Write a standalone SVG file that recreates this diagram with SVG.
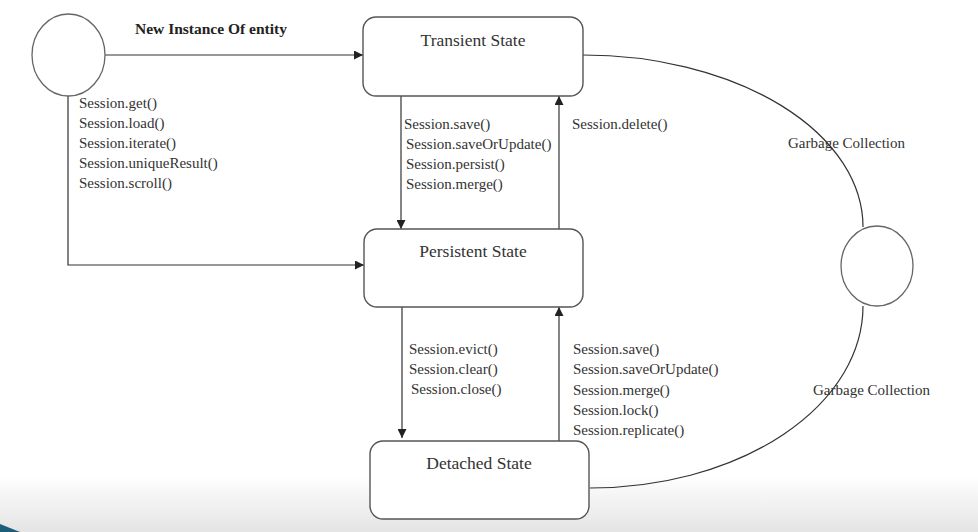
<svg xmlns="http://www.w3.org/2000/svg" width="978" height="532" viewBox="0 0 978 532">
<defs>
<linearGradient id="bg" x1="0" y1="0" x2="0" y2="1">
<stop offset="0" stop-color="#ffffff"/>
<stop offset="1" stop-color="#e4e4e4"/>
</linearGradient>
<marker id="arr" viewBox="0 0 10 10" refX="10" refY="5" markerWidth="9" markerHeight="9" markerUnits="userSpaceOnUse" orient="auto">
<path d="M0,0 L10,5 L0,10 z" fill="#222"/>
</marker>
<style>
.box{fill:#fff;stroke:#555;stroke-width:1.4}
.circ{fill:#fff;stroke:#666;stroke-width:1.3}
.ln{fill:none;stroke:#333;stroke-width:1.2}
.t{font-family:"Liberation Serif","DejaVu Serif",serif;font-size:15px;fill:#333}
.h{font-family:"Liberation Serif","DejaVu Serif",serif;font-size:17.5px;fill:#333;text-anchor:middle}
.b{font-family:"Liberation Serif","DejaVu Serif",serif;font-size:15.5px;font-weight:bold;fill:#222}
</style>
</defs>
<rect width="978" height="532" fill="#fff"/>
<rect x="0" y="475" width="978" height="57" fill="url(#bg)"/>
<path d="M0,524 Q10,528 20,532 L0,532 z" fill="#1d5d78"/>

<g id="connectors">
<path class="ln" d="M105,55 L363,55" marker-end="url(#arr)"/>
<path class="ln" d="M68,96 L68,265 L364,265" marker-end="url(#arr)"/>
<path class="ln" d="M401,96 L401,229" marker-end="url(#arr)"/>
<path class="ln" d="M559,229 L559,96" marker-end="url(#arr)"/>
<path class="ln" d="M402,307 L402,438" marker-end="url(#arr)"/>
<path class="ln" d="M559,441 L559,307" marker-end="url(#arr)"/>
<path class="ln" d="M583,55 A280,172 0 0 1 863,227"/>
<path class="ln" d="M863,306 A273,182 0 0 1 590,488"/>
<text class="b" x="135" y="34">New Instance Of entity</text>
<text class="t" x="79" y="108">Session.get()</text>
<text class="t" x="79" y="128">Session.load()</text>
<text class="t" x="79" y="148">Session.iterate()</text>
<text class="t" x="79" y="168">Session.uniqueResult()</text>
<text class="t" x="79" y="188">Session.scroll()</text>
<text class="t" x="404" y="129">Session.save()</text>
<text class="t" x="406" y="149">Session.saveOrUpdate()</text>
<text class="t" x="406" y="169">Session.persist()</text>
<text class="t" x="406" y="189">Session.merge()</text>
<text class="t" x="572" y="129">Session.delete()</text>
<text class="t" x="788" y="148">Garbage Collection</text>
<text class="t" x="813" y="395">Garbage Collection</text>
<text class="t" x="409" y="354">Session.evict()</text>
<text class="t" x="409" y="374">Session.clear()</text>
<text class="t" x="411" y="394">Session.close()</text>
<text class="t" x="573" y="354">Session.save()</text>
<text class="t" x="573" y="374">Session.saveOrUpdate()</text>
<text class="t" x="573" y="395">Session.merge()</text>
<text class="t" x="573" y="415">Session.lock()</text>
<text class="t" x="573" y="435">Session.replicate()</text>
</g>

<g id="start">
<ellipse class="circ" cx="68.5" cy="55" rx="36.5" ry="41"/>
</g>
<g id="transient">
<rect class="box" x="363" y="17" width="220" height="79" rx="13"/>
<text class="h" x="473" y="46">Transient State</text>
</g>
<g id="persistent">
<rect class="box" x="364" y="229" width="219" height="78" rx="13"/>
<text class="h" x="473" y="257">Persistent State</text>
</g>
<g id="detached">
<rect class="box" x="370" y="441" width="219" height="78" rx="13"/>
<text class="h" x="479" y="469">Detached State</text>
</g>
<g id="end">
<ellipse class="circ" cx="877" cy="266" rx="36" ry="40"/>
</g>
</svg>
